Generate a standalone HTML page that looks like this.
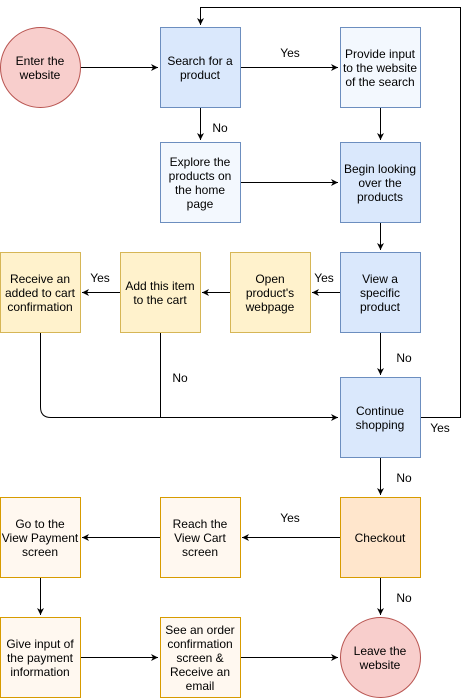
<!DOCTYPE html>
<html><head><meta charset="utf-8"><style>
html,body{margin:0;padding:0;background:#fff;}
svg{display:block;font-family:"Liberation Sans",Helvetica,Arial,sans-serif;font-size:12px;}
</style></head><body>
<svg width="470" height="698" viewBox="0 0 470 698" xmlns="http://www.w3.org/2000/svg">
<defs><marker id="a" markerWidth="10" markerHeight="10" refX="8" refY="5" orient="auto" markerUnits="userSpaceOnUse"><path d="M1,1.5 L8,5 L1,8.5 L3,5 Z" fill="#000"/></marker></defs>
<g stroke="#000" stroke-width="1" fill="none">
<path d="M80,67.5 H158" marker-end="url(#a)"/>
<path d="M240,67.5 H338" marker-end="url(#a)"/>
<path d="M200.5,107 V140" marker-end="url(#a)"/>
<path d="M380.5,107 V140" marker-end="url(#a)"/>
<path d="M240,182.5 H338" marker-end="url(#a)"/>
<path d="M380.5,222 V250" marker-end="url(#a)"/>
<path d="M340,292.5 H312" marker-end="url(#a)"/>
<path d="M230,292.5 H202" marker-end="url(#a)"/>
<path d="M120,292.5 H82" marker-end="url(#a)"/>
<path d="M380.5,332 V375" marker-end="url(#a)"/>
<path d="M40.5,332 V407 Q40.5,417.5 51,417.5 H338" marker-end="url(#a)"/>
<path d="M160.5,332 V417.5"/>
<path d="M420,417.5 H460.5 V7.5 H200.5 V25" marker-end="url(#a)"/>
<path d="M380.5,457 V495" marker-end="url(#a)"/>
<path d="M340,537.5 H242" marker-end="url(#a)"/>
<path d="M160,537.5 H82" marker-end="url(#a)"/>
<path d="M40.5,577 V615" marker-end="url(#a)"/>
<path d="M380.5,577 V615" marker-end="url(#a)"/>
<path d="M80,657.5 H158" marker-end="url(#a)"/>
<path d="M240,657.5 H338" marker-end="url(#a)"/>
</g>
<circle cx="40.5" cy="67.5" r="40" fill="#f8cecc" stroke="#b85450"/>
<circle cx="380.5" cy="657.5" r="40" fill="#f8cecc" stroke="#b85450"/>
<g stroke-width="1">
<rect x="160.5" y="27.5" width="80" height="80" fill="#dae8fc" stroke="#6c8ebf"/>
<rect x="340.5" y="27.5" width="80" height="80" fill="#f3f8fe" stroke="#6c8ebf"/>
<rect x="160.5" y="142.5" width="80" height="80" fill="#f3f8fe" stroke="#6c8ebf"/>
<rect x="340.5" y="142.5" width="80" height="80" fill="#dae8fc" stroke="#6c8ebf"/>
<rect x="340.5" y="252.5" width="80" height="80" fill="#dae8fc" stroke="#6c8ebf"/>
<rect x="340.5" y="377.5" width="80" height="80" fill="#dae8fc" stroke="#6c8ebf"/>
<rect x="230.5" y="252.5" width="80" height="80" fill="#fff2cc" stroke="#d6b656"/>
<rect x="120.5" y="252.5" width="80" height="80" fill="#fff2cc" stroke="#d6b656"/>
<rect x="0.5" y="252.5" width="80" height="80" fill="#fff2cc" stroke="#d6b656"/>
<rect x="340.5" y="497.5" width="80" height="80" fill="#ffe6cc" stroke="#d79b00"/>
<rect x="160.5" y="497.5" width="80" height="80" fill="#fff8f0" stroke="#d79b00"/>
<rect x="0.5" y="497.5" width="80" height="80" fill="#fff8f0" stroke="#d79b00"/>
<rect x="0.5" y="617.5" width="80" height="80" fill="#fff8f0" stroke="#d79b00"/>
<rect x="160.5" y="617.5" width="80" height="80" fill="#fff8f0" stroke="#d79b00"/>
</g>
<g fill="#000" text-anchor="middle">
<text x="40" y="65">Enter the</text><text x="40" y="79">website</text>
<text x="200" y="65">Search for a</text><text x="200" y="79">product</text>
<text x="380" y="58">Provide input</text><text x="380" y="72">to the website</text><text x="380" y="86">of the search</text>
<text x="200" y="166">Explore the</text><text x="200" y="180">products on</text><text x="200" y="194">the home</text><text x="200" y="208">page</text>
<text x="380" y="173">Begin looking</text><text x="380" y="187">over the</text><text x="380" y="201">products</text>
<text x="380" y="283">View a</text><text x="380" y="297">specific</text><text x="380" y="311">product</text>
<text x="270" y="283">Open</text><text x="270" y="297">product's</text><text x="270" y="311">webpage</text>
<text x="160" y="290">Add this item</text><text x="160" y="304">to the cart</text>
<text x="40" y="283">Receive an</text><text x="40" y="297">added to cart</text><text x="40" y="311">confirmation</text>
<text x="380" y="415">Continue</text><text x="380" y="429">shopping</text>
<text x="380" y="542">Checkout</text>
<text x="200" y="528">Reach the</text><text x="200" y="542">View Cart</text><text x="200" y="556">screen</text>
<text x="40" y="528">Go to the</text><text x="40" y="542">View Payment</text><text x="40" y="556">screen</text>
<text x="40" y="648">Give input of</text><text x="40" y="662">the payment</text><text x="40" y="676">information</text>
<text x="200" y="634">See an order</text><text x="200" y="648">confirmation</text><text x="200" y="662">screen &amp;</text><text x="200" y="676">Receive an</text><text x="200" y="690">email</text>
<text x="380" y="655">Leave the</text><text x="380" y="669">website</text>
<text x="290" y="57">Yes</text>
<text x="220" y="132">No</text>
<text x="100" y="282">Yes</text>
<text x="324" y="282">Yes</text>
<text x="404" y="362">No</text>
<text x="180" y="382">No</text>
<text x="440" y="432">Yes</text>
<text x="404" y="482">No</text>
<text x="290" y="522">Yes</text>
<text x="404" y="602">No</text>
</g>
</svg>
</body></html>
